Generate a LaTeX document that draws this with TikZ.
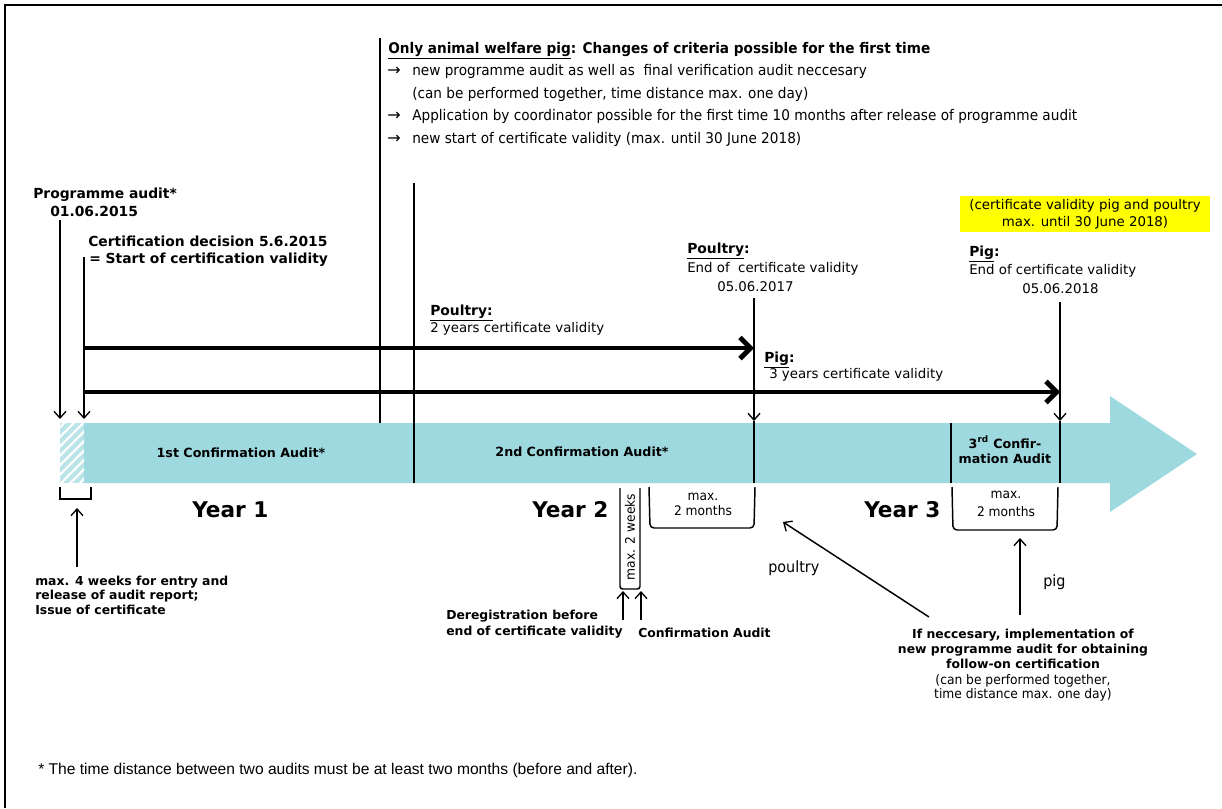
\documentclass[tikz,border=0pt]{standalone}
\usepackage{fontspec}
\setmainfont{DejaVu Sans}
\newfontfamily\tah{DejaVu Sans}[FakeStretch=0.93]
\newfontfamily\ari{Liberation Sans}
\usetikzlibrary{arrows.meta,patterns.meta}
\definecolor{bandc}{HTML}{9ED9DF}
\definecolor{hl}{HTML}{FFFF00}
\tikzset{
  t/.style={inner sep=0pt, anchor=base west},
  tc/.style={inner sep=0pt, anchor=base},
  vb/.style={font=\fontsize{10.4}{12}\selectfont\bfseries},
  vr/.style={font=\fontsize{10}{12}\selectfont},
  vbs/.style={font=\fontsize{9.3}{11}\selectfont\bfseries},
  vband/.style={font=\fontsize{9.5}{11}\selectfont\bfseries},
  yr/.style={font=\fontsize{16.2}{19}\selectfont\bfseries},
  th/.style={font=\tah\fontsize{11}{13}\selectfont},
  thb/.style={font=\tah\fontsize{11}{13}\selectfont\bfseries},
  ths/.style={font=\tah\fontsize{9.9}{11}\selectfont},
  thl/.style={font=\tah\fontsize{11.6}{13}\selectfont},
  foot/.style={font=\ari\fontsize{11.7}{13}\selectfont},
  ln/.style={line width=1.1pt},
  tar/.style={ln, -{Straight Barb[length=5pt,width=9pt,line width=1pt]}},
  fat/.style={line width=3.6pt, -{Straight Barb[length=8pt,width=16pt]}},
}
\begin{document}
\begin{tikzpicture}[x=0.75pt,y=-0.75pt]
\useasboundingbox (0,0) rectangle (1222,808);
% frame
\draw[line width=1.6pt] (5,808) -- (5,5) -- (1222,5);

% band
\fill[bandc] (84,423) -- (1110,423) -- (1110,396) -- (1197,454) -- (1110,512) -- (1110,483) -- (84,483) -- cycle;
\fill[bandc!70] (60,423) rectangle (84,483);
\fill[pattern={Lines[angle=45,distance=5pt,line width=1.6pt]},pattern color=white] (60,423) rectangle (84,483);

% coordinates
\coordinate (paT) at (60,220);
\coordinate (paB) at (60,419);
\coordinate (cdT) at (84,257);
\coordinate (cdB) at (84,419);
\coordinate (a1) at (84,348);
\coordinate (a1e) at (754,348);
\coordinate (a2) at (84,392);
\coordinate (a2e) at (1060,392);
\coordinate (v1T) at (380,38);
\coordinate (v1B) at (380,423);
\coordinate (v2T) at (414,183);
\coordinate (v2B) at (414,483);
\coordinate (v3T) at (754,298);
\coordinate (v3M) at (754,421);
\coordinate (v3B) at (754,483);
\coordinate (v4T) at (1060,302);
\coordinate (v4M) at (1060,421);
\coordinate (v4B) at (1060,483);
\coordinate (v5T) at (951,423);
\coordinate (v5B) at (951,483);

\draw[tar] (paT) -- (paB);
\draw[tar] (cdT) -- (cdB);
\draw[fat] (a1) -- (a1e);
\draw[fat] (a2) -- (a2e);
\draw[ln] (v1T) -- (v1B);
\draw[ln] (v2T) -- (v2B);
\draw[tar] (v3T) -- (v3M);
\draw[ln] (v3M) -- (v3B);
\draw[tar] (v4T) -- (v4M);
\draw[ln] (v4M) -- (v4B);
\draw[ln] (v5T) -- (v5B);

% texts top-left
\node[t,vb] (pa) at (33,198) {Programme audit*};
\node[t,vb] (pad) at (50,216) {01.06.2015};
\node[t,vb] (cd) at (88,246) {Certification decision 5.6.2015};
\node[t,vb] (cd2) at (89,263) {= Start of certification validity};

% top block
\node[t,thb] (ob1) at (388,53) {\underline{Only animal welfare pig}: Changes of criteria possible for the first time};
\node[t,font=\fontsize{12}{13}\selectfont] (ar1) at (387,75) {→};
\node[t,th] (ob2) at (412,75) {new programme audit as well as\ \ final verification audit neccesary};
\node[t,th] (ob3) at (412,98) {(can be performed together, time distance max. one day)};
\node[t,font=\fontsize{12}{13}\selectfont] (ar2) at (387,120) {→};
\node[t,th] (ob4) at (412,120) {Application by coordinator possible for the first time 10 months after release of programme audit};
\node[t,font=\fontsize{12}{13}\selectfont] (ar3) at (387,143) {→};
\node[t,th] (ob5) at (412,143) {new start of certificate validity (max. until 30 June 2018)};

% poultry / pig labels
\node[t,vb] (po1) at (687,253) {\underline{Poultry}:};
\node[t,vr] (po2) at (687,272) {End of\ \ certificate validity};
\node[t,vr] (po3) at (717,291) {05.06.2017};
\node[t,vb] (pp1) at (430,315) {\underline{Poultry:}};
\node[t,vr] (pp2) at (430,332) {2 years certificate validity};
\node[t,vb] (pg1) at (764,362) {\underline{Pig}:};
\node[t,vr] (pg2) at (769,378) {3 years certificate validity};
\node[fill=hl, minimum width=187.5pt, minimum height=27pt, inner sep=0pt, align=center, vr, font=\fontsize{10}{13}\selectfont] (yb) at (1085,214) {(certificate validity pig and poultry\\max. until 30 June 2018)};
\node[t,vb] (pr1) at (969,256) {\underline{Pig}:};
\node[t,vr] (pr2) at (969,274) {End of certificate validity};
\node[t,vr] (pr3) at (1022,293) {05.06.2018};

% band labels
\node[tc,vband] (c1) at (241,457) {1st Confirmation Audit*};
\node[tc,vband] (c2) at (582,456) {2nd Confirmation Audit*};
\node[tc,vband] (c3a) at (1005,448) {3\textsuperscript{rd} Confir-};
\node[tc,vband] (c3b) at (1005,463) {mation Audit};

% years
\node[t,yr] (y1) at (192,517) {Year 1};
\node[t,yr] (y2) at (532,517) {Year 2};
\node[t,yr] (y3) at (864,517) {Year 3};

% brackets
\draw[ln] (60,487) -- (60,499) -- (91,499) -- (91,487);
\draw[ln, rounded corners=2pt] (620,488) -- (620,589) -- (640,589) -- (640,488);
\draw[ln, rounded corners=3pt] (649,487) -- (650,528) -- (754,528) -- (755,487);
\draw[ln, rounded corners=3pt] (952,487) -- (953,530) -- (1057,530) -- (1058,487);
\node[ths, rotate=90, inner sep=0pt] (w2) at (630,537) {max. 2 weeks};
\node[tc,ths] (m2a) at (703,500) {max.};
\node[tc,ths] (m2b) at (703,515) {2 months};
\node[tc,ths] (m3a) at (1006,498) {max.};
\node[tc,ths] (m3b) at (1006,516) {2 months};

% left bottom
\coordinate (l4B) at (77,567);
\coordinate (l4T) at (77,508);
\draw[tar] (l4B) -- (l4T);
\node[t,vbs] (lb1) at (35,585) {max. 4 weeks for entry and};
\node[t,vbs] (lb2) at (35,599) {release of audit report;};
\node[t,vbs] (lb3) at (35,614) {Issue of certificate};

% deregistration
\coordinate (d1B) at (623,620);
\coordinate (d1T) at (623,591);
\coordinate (d2B) at (641,620);
\coordinate (d2T) at (641,591);
\draw[tar] (d1B) -- (d1T);
\draw[tar] (d2B) -- (d2T);
\node[t,vbs] (dr1) at (446,619) {Deregistration before};
\node[t,vbs] (dr2) at (446,635) {end of certificate validity};
\node[t,vbs] (ca) at (638,637) {Confirmation Audit};

% poultry / pig arrows
\coordinate (pS) at (929,617);
\coordinate (pE) at (783,522);
\draw[tar] (pS) -- (pE);
\node[t,thl] (plab) at (768,572) {poultry};
\coordinate (gS) at (1020,615);
\coordinate (gE) at (1020,538);
\draw[tar] (gS) -- (gE);
\node[t,thl] (glab) at (1043,586) {pig};

% bottom right text
\node[tc,vbs] (n1) at (1023,638) {If neccesary, implementation of};
\node[tc,vbs] (n2) at (1023,653) {new programme audit for obtaining};
\node[tc,vbs] (n3) at (1023,668) {follow-on certification};
\node[tc,ths] (n4) at (1023,684) {(can be performed together,};
\node[tc,ths] (n5) at (1023,698) {time distance max. one day)};

% footer
\node[t,foot] (ft) at (38,774) {* The time distance between two audits must be at least two months (before and after).};
\end{tikzpicture}
\end{document}
